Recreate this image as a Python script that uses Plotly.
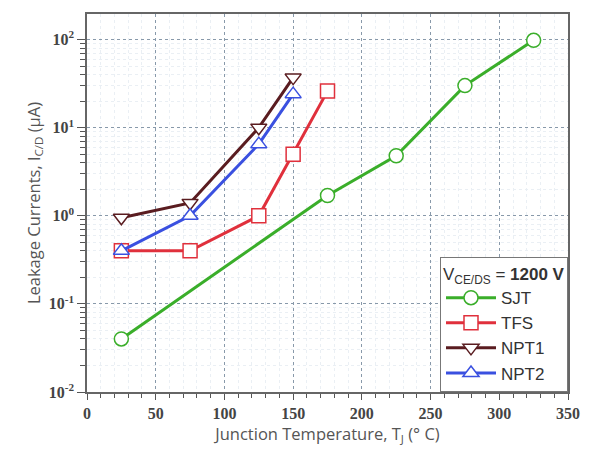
import plotly.graph_objects as go

sjt_x = [25, 175, 225, 275, 325]
sjt_y = [0.04, 1.7, 4.8, 30, 98]
tfs_x = [25, 75, 125, 150, 175]
tfs_y = [0.4, 0.4, 1.0, 5.0, 26]
npt1_x = [25, 75, 125, 150]
npt1_y = [0.95, 1.4, 10, 37]
npt2_x = [25, 75, 125, 150]
npt2_y = [0.4, 1.0, 6.5, 24]

y_tickvals = [0.01, 0.1, 1, 10, 100]
y_ticktext = ["10<sup>-2</sup>", "10<sup>-1</sup>", "10<sup>0</sup>", "10<sup>1</sup>", "10<sup>2</sup>"]
x_tickvals = [0, 50, 100, 150, 200, 250, 300, 350]

series = [
    ("SJT", sjt_x, sjt_y, "#3aae2a", "circle"),
    ("TFS", tfs_x, tfs_y, "#e0303c", "square"),
    ("NPT1", npt1_x, npt1_y, "#5a1c20", "triangle-down"),
    ("NPT2", npt2_x, npt2_y, "#3a50e0", "triangle-up"),
]

fig = go.Figure()
for name, xs, ys, col, sym in series:
    fig.add_trace(go.Scatter(
        x=xs, y=ys, name=name, mode="lines+markers",
        line=dict(color=col, width=3),
        marker=dict(symbol=sym, size=14, color="white",
                    line=dict(color=col, width=1.5)),
    ))

tickfont = dict(family="Liberation Serif", size=16, color="#444444", weight="bold")
titlefont = dict(family="Open Sans", size=16.5, color="#555555")
legfont = dict(family="Liberation Sans Narrow, Liberation Sans", size=17, color="#333333")

fig.update_layout(
    width=592, height=459,
    margin=dict(l=87, r=18, t=12, b=67),
    paper_bgcolor="white", plot_bgcolor="white",
    showlegend=True,
    legend=dict(
        x=1, y=0, xanchor="right", yanchor="bottom",
        bgcolor="white", bordercolor="#777777", borderwidth=1,
        font=legfont,
        title=dict(text="V<sub>CE/DS</sub> = <b>1200 V</b>", font=legfont),
        itemwidth=50, tracegroupgap=7,
    ),
    xaxis=dict(
        range=[0, 350], tickvals=x_tickvals,
        tickfont=tickfont,
        title=dict(text="Junction Temperature, T<sub>J</sub> (° C)", font=titlefont, standoff=6),
        showline=True, linecolor="#666666", linewidth=1.5, mirror=True,
        ticks="outside", ticklen=6, tickcolor="#555555",
        showgrid=True, gridcolor="#8899aa", griddash="dot", gridwidth=1,
        minor=dict(dtick=10, ticks="outside", ticklen=4, tickcolor="#555555",
                   showgrid=True, gridcolor="#eaeff4", gridwidth=1),
        zeroline=False,
    ),
    yaxis=dict(
        type="log", range=[-2, 2.29],
        tickvals=y_tickvals, ticktext=y_ticktext,
        tickfont=tickfont,
        title=dict(text="Leakage Currents, I<sub>C/D</sub> (μA)", font=titlefont, standoff=4),
        showline=True, linecolor="#666666", linewidth=1.5, mirror=True,
        ticks="outside", ticklen=8, tickcolor="#555555",
        showgrid=True, gridcolor="#8899aa", griddash="dot", gridwidth=1,
        minor=dict(dtick="D1", ticks="outside", ticklen=5, tickcolor="#555555",
                   showgrid=True, gridcolor="#eaeff4", gridwidth=1),
        zeroline=False,
    ),
)

fig.write_html("out.html")
